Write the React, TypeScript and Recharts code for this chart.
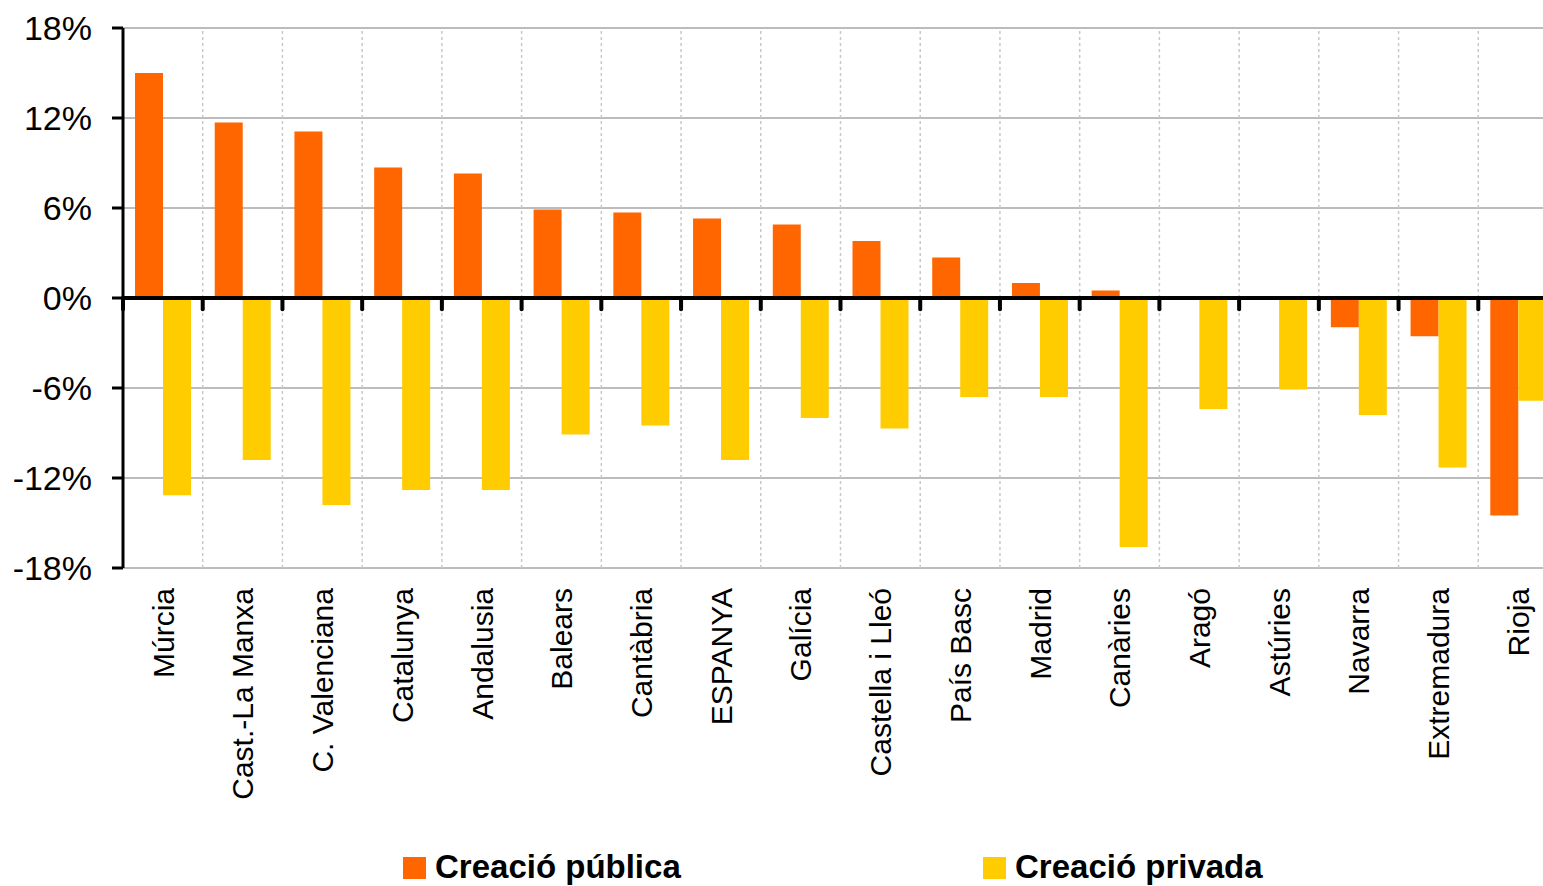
import React from 'react';
import { BarChart, Bar, XAxis, YAxis, CartesianGrid, ReferenceLine } from 'recharts';

const categories = ['Múrcia', 'Cast.-La Manxa', 'C. Valenciana', 'Catalunya', 'Andalusia', 'Balears', 'Cantàbria', 'ESPANYA', 'Galícia', 'Castella i Lleó', 'País Basc', 'Madrid', 'Canàries', 'Aragó', 'Astúries', 'Navarra', 'Extremadura', 'Rioja'];
const publica = [15.0, 11.7, 11.1, 8.7, 8.3, 5.9, 5.7, 5.3, 4.9, 3.8, 2.7, 1.0, 0.5, 0, 0, -1.95, -2.55, -14.5];
const privada = [-13.15, -10.8, -13.8, -12.8, -12.8, -9.1, -8.5, -10.8, -8.0, -8.7, -6.6, -6.6, -16.6, -7.4, -6.1, -7.8, -11.3, -6.85];
const yTicks = [-18, -12, -6, 0, 6, 12, 18];
const seriesNames = ['Creació pública', 'Creació privada'];
const boundaries = Array.from({ length: 18 }, (_, i) => i);

const data = categories.map((c, i) => ({ name: c, publica: publica[i], privada: privada[i], idx: i }));

const FONT = '"Liberation Sans", Arial, sans-serif';

const CatTick = (props: any) => {
  const { x, y, payload } = props;
  return (
    <text x={x} y={y} transform={`rotate(-90, ${x}, ${y})`} textAnchor="end" dy="0.36em" fontSize={30} fontFamily={FONT} fill="#000">
      {payload.value}
    </text>
  );
};

export default function App() {
  return (
    <div style={{ position: 'fixed', left: 0, top: 0, width: 1543, height: 886, overflow: 'hidden', background: '#fff' }}>
      <BarChart width={1558} height={886} data={data} margin={{ top: 28, right: 0, left: 0, bottom: 0 }} barGap={0} barSize={28}>
        <CartesianGrid horizontal={true} vertical={false} stroke="#a6a6a6" strokeWidth={1.5} />
        <XAxis dataKey="name" interval={0} height={318} tickLine={false} axisLine={false} tick={<CatTick />} tickMargin={0} tickSize={20} />
        <XAxis xAxisId="b" type="number" dataKey="idx" domain={[0, 18]} allowDataOverflow={true} hide />
        <YAxis domain={[-18, 18]} ticks={yTicks} width={123} tickFormatter={(v: number) => `${v}%`} tick={{ fontSize: 34, fontFamily: FONT, fill: '#000' }} tickSize={11} tickMargin={20} axisLine={{ stroke: '#000', strokeWidth: 3 }} tickLine={{ stroke: '#000', strokeWidth: 3 }} interval={0} />
        {boundaries.slice(1).map((b) => (
          <ReferenceLine key={'g' + b} xAxisId="b" x={b} stroke="#c8c8c8" strokeDasharray="3 3" strokeWidth={1.5} ifOverflow="visible" />
        ))}
        <Bar dataKey="publica" name={seriesNames[0]} fill="#FF6600" isAnimationActive={false} />
        <Bar dataKey="privada" name={seriesNames[1]} fill="#FFCC00" isAnimationActive={false} />
        <ReferenceLine y={0} stroke="#000" strokeWidth={4} />
        {boundaries.map((b) => (
          <ReferenceLine key={'t' + b} xAxisId="b" segment={[{ x: b, y: 0 }, { x: b, y: -0.75 }]} stroke="#000" strokeWidth={4} strokeLinecap="round" ifOverflow="visible" />
        ))}
      </BarChart>
      <div style={{ position: 'absolute', left: 403, top: 857, width: 23, height: 22, background: '#FF6600' }} />
      <div style={{ position: 'absolute', left: 435, top: 851, fontFamily: FONT, fontWeight: 'bold', fontSize: 33, lineHeight: '32px', color: '#000', whiteSpace: 'nowrap' }}>{seriesNames[0]}</div>
      <div style={{ position: 'absolute', left: 983, top: 857, width: 23, height: 22, background: '#FFCC00' }} />
      <div style={{ position: 'absolute', left: 1015, top: 851, fontFamily: FONT, fontWeight: 'bold', fontSize: 33, lineHeight: '32px', color: '#000', whiteSpace: 'nowrap' }}>{seriesNames[1]}</div>
    </div>
  );
}
